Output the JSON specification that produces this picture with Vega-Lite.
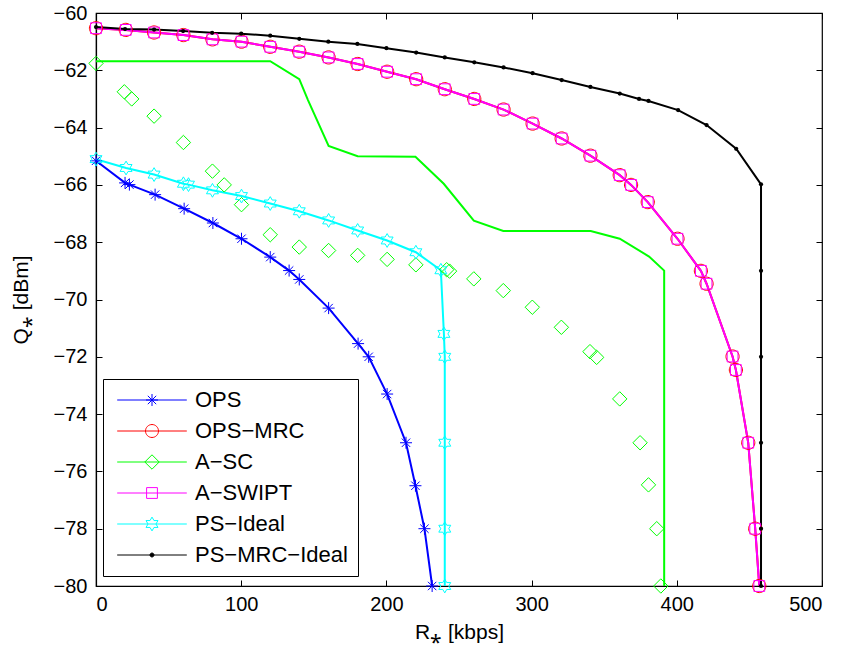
{
  "$schema": "https://vega.github.io/schema/vega-lite/v6.json",
  "width": 726,
  "height": 573,
  "autosize": {"type": "none"},
  "padding": {"left": 96, "top": 13, "right": 19, "bottom": 60},
  "background": "white",
  "config": {
    "font": "Liberation Sans",
    "view": {"stroke": "black", "strokeWidth": 1.2},
    "axis": {
      "grid": false,
      "domainColor": "black",
      "domainWidth": 1.2,
      "tickColor": "black",
      "tickWidth": 1,
      "tickSize": -6,
      "labelColor": "black",
      "labelFontSize": 20,
      "labelFont": "Liberation Sans",
      "titleFont": "Liberation Sans",
      "titleFontSize": 21,
      "titleFontWeight": "normal",
      "titleColor": "black"
    }
  },
  "resolve": {"axis": {"x": "independent", "y": "independent"}},
  "data": {
    "values": [
      {"s": "OPS", "r": 0, "q": -65.16},
      {"s": "OPS", "r": 20, "q": -65.93},
      {"s": "OPS", "r": 23, "q": -65.99},
      {"s": "OPS", "r": 40.7, "q": -66.34},
      {"s": "OPS", "r": 60.7, "q": -66.83},
      {"s": "OPS", "r": 80.5, "q": -67.33},
      {"s": "OPS", "r": 100.2, "q": -67.88},
      {"s": "OPS", "r": 120, "q": -68.52},
      {"s": "OPS", "r": 133, "q": -68.99},
      {"s": "OPS", "r": 140, "q": -69.3},
      {"s": "OPS", "r": 160.2, "q": -70.3},
      {"s": "OPS", "r": 180.5, "q": -71.54},
      {"s": "OPS", "r": 187.8, "q": -72.0},
      {"s": "OPS", "r": 200.5, "q": -73.3},
      {"s": "OPS", "r": 213.5, "q": -75.0},
      {"s": "OPS", "r": 220, "q": -76.5},
      {"s": "OPS", "r": 226.2, "q": -78.0},
      {"s": "OPS", "r": 231.5, "q": -80.0},

      {"s": "OPS−MRC", "r": 0, "q": -60.53},
      {"s": "OPS−MRC", "r": 20.5, "q": -60.59},
      {"s": "OPS−MRC", "r": 40, "q": -60.68},
      {"s": "OPS−MRC", "r": 60.2, "q": -60.77},
      {"s": "OPS−MRC", "r": 80.2, "q": -60.92},
      {"s": "OPS−MRC", "r": 100.2, "q": -61.0},
      {"s": "OPS−MRC", "r": 120, "q": -61.18},
      {"s": "OPS−MRC", "r": 140, "q": -61.35},
      {"s": "OPS−MRC", "r": 160.2, "q": -61.55},
      {"s": "OPS−MRC", "r": 180.2, "q": -61.78},
      {"s": "OPS−MRC", "r": 200.5, "q": -62.05},
      {"s": "OPS−MRC", "r": 220.5, "q": -62.31},
      {"s": "OPS−MRC", "r": 240.2, "q": -62.66},
      {"s": "OPS−MRC", "r": 260.5, "q": -63.0},
      {"s": "OPS−MRC", "r": 280.7, "q": -63.37},
      {"s": "OPS−MRC", "r": 300.7, "q": -63.86},
      {"s": "OPS−MRC", "r": 320.7, "q": -64.38},
      {"s": "OPS−MRC", "r": 340.5, "q": -64.98},
      {"s": "OPS−MRC", "r": 360.7, "q": -65.66},
      {"s": "OPS−MRC", "r": 368.5, "q": -66.0},
      {"s": "OPS−MRC", "r": 380, "q": -66.6},
      {"s": "OPS−MRC", "r": 400.5, "q": -67.88},
      {"s": "OPS−MRC", "r": 416.6, "q": -69.0},
      {"s": "OPS−MRC", "r": 420.5, "q": -69.45},
      {"s": "OPS−MRC", "r": 438.4, "q": -71.99},
      {"s": "OPS−MRC", "r": 440.7, "q": -72.46},
      {"s": "OPS−MRC", "r": 449.2, "q": -75.0},
      {"s": "OPS−MRC", "r": 454, "q": -78.0},
      {"s": "OPS−MRC", "r": 456.8, "q": -80.0},

      {"s": "A−SC", "t": "L", "r": 0, "q": -61.68},
      {"s": "A−SC", "t": "L", "r": 120, "q": -61.68},
      {"s": "A−SC", "t": "L", "r": 140, "q": -62.31},
      {"s": "A−SC", "t": "L", "r": 146, "q": -63.04},
      {"s": "A−SC", "t": "L", "r": 160.2, "q": -64.64},
      {"s": "A−SC", "t": "L", "r": 180.2, "q": -65.0},
      {"s": "A−SC", "t": "L", "r": 220, "q": -65.02},
      {"s": "A−SC", "t": "L", "r": 239.5, "q": -65.96},
      {"s": "A−SC", "t": "L", "r": 260.2, "q": -67.25},
      {"s": "A−SC", "t": "L", "r": 280.5, "q": -67.61},
      {"s": "A−SC", "t": "L", "r": 340.7, "q": -67.61},
      {"s": "A−SC", "t": "L", "r": 360.7, "q": -67.88},
      {"s": "A−SC", "t": "L", "r": 380.9, "q": -68.5},
      {"s": "A−SC", "t": "L", "r": 391.3, "q": -68.99},
      {"s": "A−SC", "t": "L", "r": 391.3, "q": -80.0},
      {"s": "A−SC", "t": "P", "r": 0, "q": -61.76},
      {"s": "A−SC", "t": "P", "r": 19.5, "q": -62.75},
      {"s": "A−SC", "t": "P", "r": 24.6, "q": -63.0},
      {"s": "A−SC", "t": "P", "r": 40, "q": -63.6},
      {"s": "A−SC", "t": "P", "r": 60.2, "q": -64.52},
      {"s": "A−SC", "t": "P", "r": 80.2, "q": -65.52},
      {"s": "A−SC", "t": "P", "r": 88.3, "q": -66.0},
      {"s": "A−SC", "t": "P", "r": 100.2, "q": -66.69},
      {"s": "A−SC", "t": "P", "r": 120, "q": -67.74},
      {"s": "A−SC", "t": "P", "r": 140, "q": -68.17},
      {"s": "A−SC", "t": "P", "r": 160.2, "q": -68.29},
      {"s": "A−SC", "t": "P", "r": 180.2, "q": -68.46},
      {"s": "A−SC", "t": "P", "r": 200.5, "q": -68.6},
      {"s": "A−SC", "t": "P", "r": 220.3, "q": -68.79},
      {"s": "A−SC", "t": "P", "r": 241.5, "q": -68.96},
      {"s": "A−SC", "t": "P", "r": 243.5, "q": -69.01},
      {"s": "A−SC", "t": "P", "r": 260.2, "q": -69.28},
      {"s": "A−SC", "t": "P", "r": 280.5, "q": -69.69},
      {"s": "A−SC", "t": "P", "r": 300.5, "q": -70.27},
      {"s": "A−SC", "t": "P", "r": 320.5, "q": -70.97},
      {"s": "A−SC", "t": "P", "r": 340.2, "q": -71.82},
      {"s": "A−SC", "t": "P", "r": 344.8, "q": -72.02},
      {"s": "A−SC", "t": "P", "r": 360.7, "q": -73.47},
      {"s": "A−SC", "t": "P", "r": 374.7, "q": -75.0},
      {"s": "A−SC", "t": "P", "r": 380.5, "q": -76.47},
      {"s": "A−SC", "t": "P", "r": 386.2, "q": -78.0},
      {"s": "A−SC", "t": "P", "r": 389, "q": -80.0},

      {"s": "A−SWIPT", "r": 0, "q": -60.53},
      {"s": "A−SWIPT", "r": 20.5, "q": -60.59},
      {"s": "A−SWIPT", "r": 40, "q": -60.68},
      {"s": "A−SWIPT", "r": 60.2, "q": -60.77},
      {"s": "A−SWIPT", "r": 80.2, "q": -60.92},
      {"s": "A−SWIPT", "r": 100.2, "q": -61.0},
      {"s": "A−SWIPT", "r": 120, "q": -61.18},
      {"s": "A−SWIPT", "r": 140, "q": -61.35},
      {"s": "A−SWIPT", "r": 160.2, "q": -61.55},
      {"s": "A−SWIPT", "r": 180.2, "q": -61.78},
      {"s": "A−SWIPT", "r": 200.5, "q": -62.05},
      {"s": "A−SWIPT", "r": 220.5, "q": -62.31},
      {"s": "A−SWIPT", "r": 240.2, "q": -62.66},
      {"s": "A−SWIPT", "r": 260.5, "q": -63.0},
      {"s": "A−SWIPT", "r": 280.7, "q": -63.37},
      {"s": "A−SWIPT", "r": 300.7, "q": -63.86},
      {"s": "A−SWIPT", "r": 320.7, "q": -64.38},
      {"s": "A−SWIPT", "r": 340.5, "q": -64.98},
      {"s": "A−SWIPT", "r": 360.7, "q": -65.66},
      {"s": "A−SWIPT", "r": 368.5, "q": -66.0},
      {"s": "A−SWIPT", "r": 380, "q": -66.6},
      {"s": "A−SWIPT", "r": 400.5, "q": -67.88},
      {"s": "A−SWIPT", "r": 416.6, "q": -69.0},
      {"s": "A−SWIPT", "r": 420.5, "q": -69.45},
      {"s": "A−SWIPT", "r": 438.4, "q": -71.99},
      {"s": "A−SWIPT", "r": 440.7, "q": -72.46},
      {"s": "A−SWIPT", "r": 449.2, "q": -75.0},
      {"s": "A−SWIPT", "r": 454, "q": -78.0},
      {"s": "A−SWIPT", "r": 456.8, "q": -80.0},

      {"s": "PS−Ideal", "r": 0, "q": -65.1},
      {"s": "PS−Ideal", "r": 20.7, "q": -65.41},
      {"s": "PS−Ideal", "r": 40, "q": -65.64},
      {"s": "PS−Ideal", "r": 60.2, "q": -65.96},
      {"s": "PS−Ideal", "r": 63.7, "q": -65.99},
      {"s": "PS−Ideal", "r": 80.2, "q": -66.19},
      {"s": "PS−Ideal", "r": 100.2, "q": -66.39},
      {"s": "PS−Ideal", "r": 120, "q": -66.65},
      {"s": "PS−Ideal", "r": 140, "q": -66.92},
      {"s": "PS−Ideal", "r": 160.2, "q": -67.24},
      {"s": "PS−Ideal", "r": 180.2, "q": -67.59},
      {"s": "PS−Ideal", "r": 200.5, "q": -67.94},
      {"s": "PS−Ideal", "r": 220.3, "q": -68.35},
      {"s": "PS−Ideal", "r": 237.5, "q": -68.98},
      {"s": "PS−Ideal", "r": 239.6, "q": -71.2},
      {"s": "PS−Ideal", "r": 240.2, "q": -72.0},
      {"s": "PS−Ideal", "r": 240.2, "q": -75.0},
      {"s": "PS−Ideal", "r": 240.2, "q": -78.0},
      {"s": "PS−Ideal", "r": 240.2, "q": -80.0},

      {"s": "PS−MRC−Ideal", "r": 0, "q": -60.49},
      {"s": "PS−MRC−Ideal", "r": 20, "q": -60.56},
      {"s": "PS−MRC−Ideal", "r": 40, "q": -60.58},
      {"s": "PS−MRC−Ideal", "r": 60, "q": -60.63},
      {"s": "PS−MRC−Ideal", "r": 80, "q": -60.69},
      {"s": "PS−MRC−Ideal", "r": 100, "q": -60.72},
      {"s": "PS−MRC−Ideal", "r": 120, "q": -60.79},
      {"s": "PS−MRC−Ideal", "r": 140, "q": -60.9},
      {"s": "PS−MRC−Ideal", "r": 160, "q": -61.0},
      {"s": "PS−MRC−Ideal", "r": 180, "q": -61.08},
      {"s": "PS−MRC−Ideal", "r": 200, "q": -61.23},
      {"s": "PS−MRC−Ideal", "r": 220.5, "q": -61.38},
      {"s": "PS−MRC−Ideal", "r": 240.2, "q": -61.55},
      {"s": "PS−MRC−Ideal", "r": 260.5, "q": -61.72},
      {"s": "PS−MRC−Ideal", "r": 280.7, "q": -61.9},
      {"s": "PS−MRC−Ideal", "r": 300.7, "q": -62.1},
      {"s": "PS−MRC−Ideal", "r": 320.7, "q": -62.34},
      {"s": "PS−MRC−Ideal", "r": 340.5, "q": -62.58},
      {"s": "PS−MRC−Ideal", "r": 360.7, "q": -62.81},
      {"s": "PS−MRC−Ideal", "r": 374, "q": -63.0},
      {"s": "PS−MRC−Ideal", "r": 380.5, "q": -63.07},
      {"s": "PS−MRC−Ideal", "r": 400.9, "q": -63.39},
      {"s": "PS−MRC−Ideal", "r": 420.5, "q": -63.91},
      {"s": "PS−MRC−Ideal", "r": 440.9, "q": -64.74},
      {"s": "PS−MRC−Ideal", "r": 458, "q": -65.98},
      {"s": "PS−MRC−Ideal", "r": 458, "q": -69.0},
      {"s": "PS−MRC−Ideal", "r": 458, "q": -72.0},
      {"s": "PS−MRC−Ideal", "r": 458, "q": -75.0},
      {"s": "PS−MRC−Ideal", "r": 458, "q": -78.0},
      {"s": "PS−MRC−Ideal", "r": 458, "q": -80.0}
    ]
  },
  "encoding": {
    "x": {"field": "r", "type": "quantitative", "scale": {"domain": [0, 500], "nice": false, "zero": false}, "axis": null},
    "y": {"field": "q", "type": "quantitative", "scale": {"domain": [-80, -60], "nice": false, "zero": false}, "axis": null},
    "color": {
      "field": "s", "type": "nominal",
      "scale": {
        "domain": ["OPS", "OPS−MRC", "A−SC", "A−SWIPT", "PS−Ideal", "PS−MRC−Ideal"],
        "range": ["#0000ff", "#ff0000", "#00ff00", "#ff00ff", "#00ffff", "#000000"]
      },
      "legend": {
        "title": null,
        "orient": "none",
        "legendX": 7,
        "legendY": 366,
        "fillColor": "white",
        "strokeColor": "black",
        "padding": 10,
        "rowPadding": 9,
        "labelFont": "Liberation Sans",
        "labelFontSize": 22,
        "labelColor": "black",
        "symbolSize": 144,
        "symbolOffset": 28,
        "labelOffset": 32,
        "symbolStrokeWidth": 1,
        "symbolOpacity": 1,
        "encode": {
          "symbols": {
            "update": {
              "shape": {"signal": "datum.value === 'OPS' ? 'M-5.8,0H5.8M-1,0H1M0,-1V1M-0.7,-0.7L0.7,0.7M-0.7,0.7L0.7,-0.7' : datum.value === 'OPS−MRC' ? 'M-5.8,0H5.8M-1.08,0A1.08,1.08,0,1,1,1.08,0A1.08,1.08,0,1,1,-1.08,0Z' : datum.value === 'A−SC' ? 'M-5.8,0H5.8M0,-1.2L1.2,0L0,1.2L-1.2,0Z' : datum.value === 'A−SWIPT' ? 'M-5.8,0H5.8M-0.9,-0.9H0.9V0.9H-0.9Z' : datum.value === 'PS−Ideal' ? 'M-5.8,0H5.8M0,-1.15L0.332,-0.575L0.996,-0.575L0.664,0L0.996,0.575L0.332,0.575L0,1.15L-0.332,0.575L-0.996,0.575L-0.664,0L-0.996,-0.575L-0.332,-0.575Z' : 'M-5.8,0H5.8M-0.33,0A0.33,0.33,0,1,1,0.33,0A0.33,0.33,0,1,1,-0.33,0Z'"},
              "fill": {"signal": "datum.value === 'PS−MRC−Ideal' ? '#000000' : 'transparent'"},
              "stroke": {"signal": "scale('color', datum.value)"},
              "strokeWidth": {"value": 1},
              "opacity": {"value": 1}
            }
          }
        }
      }
    }
  },
  "layer": [
    {
      "transform": [{"filter": "datum.t != 'P'"}],
      "mark": {"type": "line", "strokeWidth": 2, "clip": true},
      "encoding": {
        "x": {
          "field": "r", "type": "quantitative",
          "scale": {"domain": [0, 500], "nice": false, "zero": false},
          "axis": {"orient": "bottom", "title": "R⁎ [kbps]", "values": [0, 100, 200, 300, 400, 500], "labelPadding": 14, "titlePadding": 7}
        },
        "y": {
          "field": "q", "type": "quantitative",
          "scale": {"domain": [-80, -60], "nice": false, "zero": false},
          "axis": {"orient": "left", "title": "Q⁎ [dBm]", "values": [-80, -78, -76, -74, -72, -70, -68, -66, -64, -62, -60], "labelPadding": 15, "titlePadding": 22}
        }
      }
    },
    {
      "transform": [{"filter": "datum.s == 'OPS'"}],
      "mark": {"type": "point", "filled": false, "size": 144, "strokeWidth": 1, "opacity": 1, "shape": "M-1,0H1M0,-1V1M-0.7,-0.7L0.7,0.7M-0.7,0.7L0.7,-0.7"}
    },
    {
      "transform": [{"filter": "datum.s == 'OPS−MRC'"}],
      "mark": {"type": "point", "filled": false, "size": 150, "strokeWidth": 1, "opacity": 1, "shape": "M-1.08,0A1.08,1.08,0,1,1,1.08,0A1.08,1.08,0,1,1,-1.08,0Z"}
    },
    {
      "transform": [{"filter": "datum.s == 'A−SC' && datum.t == 'P'"}],
      "mark": {"type": "point", "filled": false, "size": 144, "strokeWidth": 1, "opacity": 1, "shape": "M0,-1.2L1.2,0L0,1.2L-1.2,0Z"}
    },
    {
      "transform": [{"filter": "datum.s == 'A−SWIPT'"}],
      "mark": {"type": "point", "filled": false, "size": 144, "strokeWidth": 1, "opacity": 1, "shape": "M-0.9,-0.9H0.9V0.9H-0.9Z"}
    },
    {
      "transform": [{"filter": "datum.s == 'PS−Ideal'"}],
      "mark": {"type": "point", "filled": false, "size": 144, "strokeWidth": 1, "opacity": 1, "shape": "M0,-1.15L0.332,-0.575L0.996,-0.575L0.664,0L0.996,0.575L0.332,0.575L0,1.15L-0.332,0.575L-0.996,0.575L-0.664,0L-0.996,-0.575L-0.332,-0.575Z"}
    },
    {
      "transform": [{"filter": "datum.s == 'PS−MRC−Ideal'"}],
      "mark": {"type": "point", "filled": true, "shape": "circle", "size": 18, "opacity": 1},
      "encoding": {
        "color": {"value": "#000000"},
        "x": {
          "field": "r", "type": "quantitative",
          "scale": {"domain": [0, 500], "nice": false, "zero": false},
          "axis": {"orient": "top", "title": null, "labels": false, "domain": false, "values": [0, 100, 200, 300, 400, 500]}
        },
        "y": {
          "field": "q", "type": "quantitative",
          "scale": {"domain": [-80, -60], "nice": false, "zero": false},
          "axis": {"orient": "right", "title": null, "labels": false, "domain": false, "values": [-80, -78, -76, -74, -72, -70, -68, -66, -64, -62, -60]}
        }
      }
    }
  ]
}
